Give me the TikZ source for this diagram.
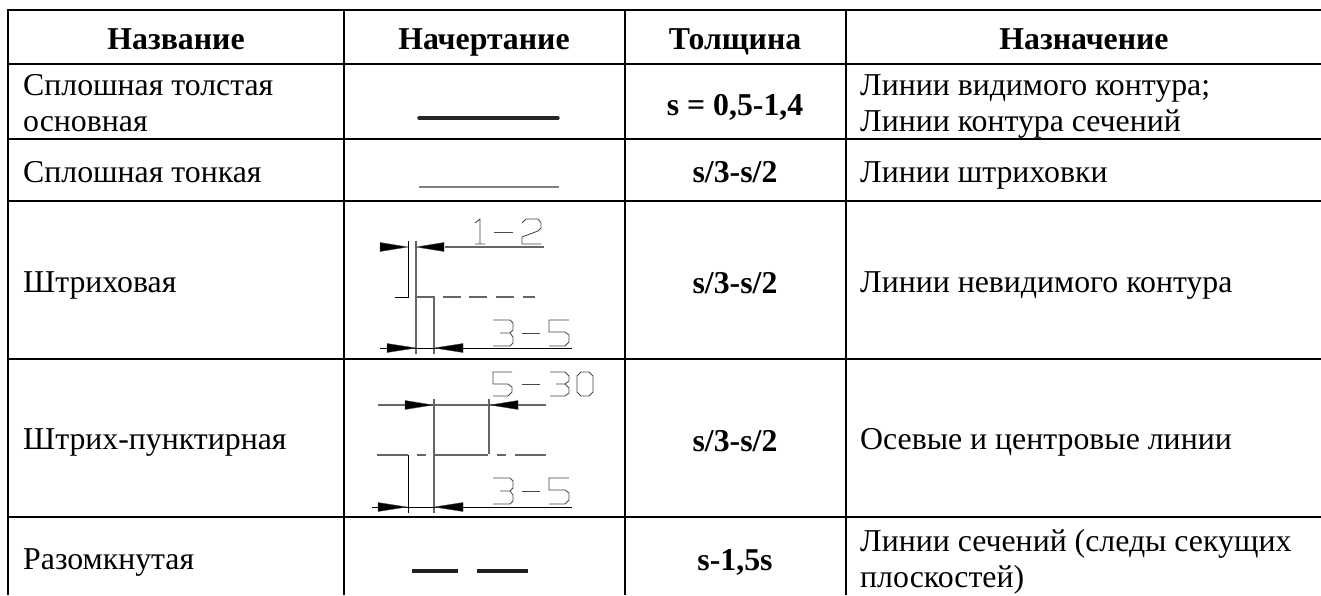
\documentclass[tikz,border=0pt]{standalone}
\usepackage{fontspec}
\setmainfont{Liberation Serif}
\begin{document}
\begin{tikzpicture}[x=1pt,y=-1pt,
  grid/.style={line width=1.7pt,black},
  txt/.style={font=\fontsize{31.8}{36}\selectfont,inner sep=0,anchor=base west,align=left},
  ctr/.style={font=\fontsize{31.8}{36}\selectfont\bfseries,inner sep=0,anchor=base,align=center},
  thick line/.style={line width=3.4pt,color=black!85,line cap=round},
  thin line/.style={line width=1.7pt,color=black!50},
  open line/.style={line width=4.8pt,color=black!88},
  dim/.style={line width=1.2pt,color=black!60},
  dimd/.style={line width=1pt,color=black},
  cad/.style={line width=0.85pt,color=black!72,line join=miter},
  tip/.style={fill=black,draw=black!70,line width=0.4pt}]
\useasboundingbox (0,0) rectangle (1321,595);
\fill[white] (0,0) rectangle (1321,595);
\foreach \y in {10,64,139,201,359,517} \draw[grid] (7.2,\y) -- (1321,\y);
\foreach \x in {8,344,625,846} \draw[grid] (\x,9.2) -- (\x,595);
\node[ctr] (h1) at (176,49) {Название};
\node[ctr] (h2) at (484,49) {Начертание};
\node[ctr] (h3) at (735,49) {Толщина};
\node[ctr] (h4) at (1084,49) {Назначение};
\node[txt] (a1) at (23,95) {Сплошная толстая};
\node[txt] (a1b) at (23,131) {основная};
\node[txt] (a2) at (23,182) {Сплошная тонкая};
\node[txt] (a3) at (23,292) {Штриховая};
\node[txt] (a4) at (23,449) {Штрих-пунктирная};
\node[txt] (a5) at (23,569) {Разомкнутая};
\node[ctr] (t1) at (735,115) {s = 0,5-1,4};
\node[ctr] (t2) at (735,182) {s/3-s/2};
\node[ctr] (t3) at (735,293) {s/3-s/2};
\node[ctr] (t4) at (735,451) {s/3-s/2};
\node[ctr] (t5) at (735,570) {s-1,5s};
\node[txt] (n1) at (860,95) {Линии видимого контура;};
\node[txt] (n1b) at (860,131) {Линии контура сечений};
\node[txt] (n2) at (860,182) {Линии штриховки};
\node[txt] (n3) at (860,292) {Линии невидимого контура};
\node[txt] (n4) at (860,449) {Осевые и центровые линии};
\node[txt] (n5) at (860,551) {Линии сечений (следы секущих};
\node[txt] (n5b) at (860,587) {плоскостей)};
% solid
\draw[thick line] (419,118) -- (558,118);
\draw[thin line] (419,187) -- (559,187);
% dashed
\draw[dim] (445,247) -- (544,247);
\draw[dimd] (408,241) -- (408,297) -- (395,297);
\draw[dim] (416,241) -- (416,354);
\draw[dim] (416,297) -- (434,297) -- (434,354);
\foreach \a/\b in {443/461,469/487,496/514,523/535} \draw[dim] (\a,297) -- (\b,297);
\draw[dimd] (380,348) -- (572,348);
\fill[tip] (380,242.5) -- (408,247) -- (380,251.5) -- cycle;
\fill[tip] (444,242.5) -- (416,247) -- (444,251.5) -- cycle;
\fill[tip] (387,343.5) -- (416,348) -- (387,352.5) -- cycle;
\fill[tip] (463,343.5) -- (434,348) -- (463,352.5) -- cycle;
% 1-2
\draw[cad] (475,223) -- (480,219) -- (480,244) (475,244) -- (485,244);
\draw[cad] (494,232) -- (513,232);
\draw[cad] (522,223) -- (526,219) -- (538,219) -- (541,223) -- (541,228) -- (538,231) -- (522,237) -- (522,244) -- (541,244);
% 3-5 upper
\draw[cad] (493,320) -- (510,320) -- (513,323) -- (513,330) -- (510,333) -- (500,333) (510,333) -- (513,337) -- (513,343) -- (510,346) -- (493,346);
\draw[cad] (522,333) -- (540,333);
\draw[cad] (569,320) -- (549,320) -- (549,332) -- (565,332) -- (569,335) -- (569,342) -- (565,346) -- (549,346);
% dash-dot
\draw[dim] (378,405) -- (546,405);
\draw[dim] (434,399) -- (434,513);
\draw[dim] (489,399) -- (489,454);
\draw[dim] (377,455) -- (408,455);
\draw[dim] (417,455) -- (426,455);
\draw[dim] (434,455) -- (488,455);
\draw[dim] (497,455) -- (506,455);
\draw[dim] (515,455) -- (546,455);
\draw[dimd] (408,455) -- (408,513);
\draw[dimd] (372,507) -- (572,507);
\fill[tip] (405,400.5) -- (433,405) -- (405,409.5) -- cycle;
\fill[tip] (518,400.5) -- (490,405) -- (518,409.5) -- cycle;
\fill[tip] (378,502.5) -- (407,507) -- (378,511.5) -- cycle;
\fill[tip] (463,502.5) -- (434,507) -- (463,511.5) -- cycle;
% 5-30
\draw[cad] (512,372) -- (493,372) -- (493,384) -- (508,384) -- (512,387) -- (512,392) -- (508,396) -- (493,396);
\draw[cad] (522,384) -- (540,384);
\draw[cad] (550,372) -- (565,372) -- (569,376) -- (569,381) -- (565,384) -- (556,384) (565,384) -- (569,388) -- (569,393) -- (565,396) -- (550,396);
\draw[cad] (581,372) -- (589,372) -- (593,376) -- (593,392) -- (589,396) -- (581,396) -- (577,392) -- (577,376) -- cycle;
% 3-5 lower
\draw[cad] (493,478) -- (510,478) -- (513,481) -- (513,488) -- (510,491) -- (500,491) (510,491) -- (513,495) -- (513,501) -- (510,504) -- (493,504);
\draw[cad] (522,491) -- (540,491);
\draw[cad] (569,478) -- (549,478) -- (549,490) -- (565,490) -- (569,493) -- (569,500) -- (565,504) -- (549,504);
% open
\draw[open line] (412,571) -- (458,571);
\draw[open line] (477,571) -- (528,571);
\end{tikzpicture}
\end{document}
